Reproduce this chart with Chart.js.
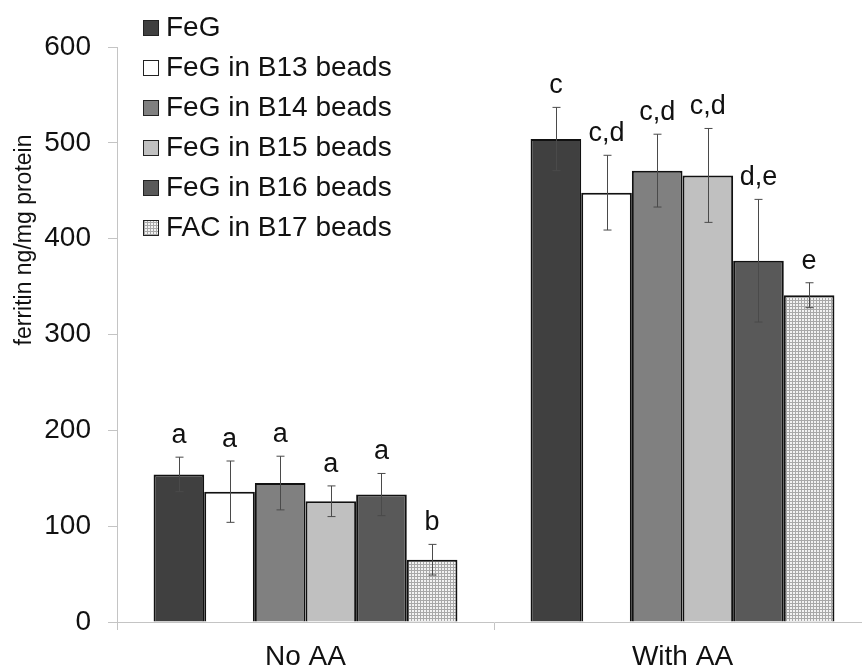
<!DOCTYPE html>
<html>
<head>
<meta charset="utf-8">
<script src="https://cdn.jsdelivr.net/npm/chart.js@4.4.1/dist/chart.umd.min.js"></script>
<style>
    html, body { margin: 0; padding: 0; background: #fff; overflow: hidden; }
    #wrap { width: 872px; height: 666px; position: relative; }
</style>
</head>
<body>
<div id="wrap"><canvas id="ferritinChart"></canvas></div>
<script>
// categories and series
const groups = ['No AA', 'With AA'];
const seriesNames = ['FeG', 'FeG in B13 beads', 'FeG in B14 beads', 'FeG in B15 beads', 'FeG in B16 beads', 'FAC in B17 beads'];

const feG      = [154, 504];
const feGB13   = [136, 448];
const feGB14   = [145, 471];
const feGB15   = [126, 466];
const feGB16   = [133, 377];
const facB17   = [65, 341];

const feGErr    = [18, 33];
const feGB13Err = [32, 39];
const feGB14Err = [28, 38];
const feGB15Err = [16, 49];
const feGB16Err = [22, 64];
const facB17Err = [16, 13];

// significance letters
const feGLetters    = ['a', 'c'];
const feGB13Letters = ['a', 'c,d'];
const feGB14Letters = ['a', 'c,d'];
const feGB15Letters = ['a', 'c,d'];
const feGB16Letters = ['a', 'd,e'];
const facB17Letters = ['b', 'e'];

const yTicks = [0, 100, 200, 300, 400, 500, 600];

// fine grid fill for the FAC bars
function makeGridPattern() {
    const c = document.createElement('canvas');
    c.width = 3;
    c.height = 3;
    const g = c.getContext('2d');
    g.fillStyle = '#f2f2f2';
    g.fillRect(0, 0, 3, 3);
    g.fillStyle = '#a8a8a8';
    g.fillRect(0, 0, 3, 1);
    g.fillRect(0, 0, 1, 3);
    return g.createPattern(c, 'repeat');
}

const ctx = document.getElementById('ferritinChart').getContext('2d');
const gridFill = makeGridPattern();

const fills = ['#404040', '#ffffff', '#808080', '#c0c0c0', '#595959', gridFill];
const values = [feG, feGB13, feGB14, feGB15, feGB16, facB17];
const errors = [feGErr, feGB13Err, feGB14Err, feGB15Err, feGB16Err, facB17Err];
const letters = [feGLetters, feGB13Letters, feGB14Letters, feGB15Letters, feGB16Letters, facB17Letters];

const datasets = seriesNames.map(function (name, i) {
    return {
        label: name,
        data: values[i],
        errors: errors[i],
        letters: letters[i],
        backgroundColor: fills[i],
        borderColor: '#111',
        borderWidth: 2,
        borderSkipped: 'bottom'
    };
});

// error bars + letters above them
const errorBars = {
    id: 'errorBars',
    afterDatasetsDraw(chart) {
        const c = chart.ctx;
        const y = chart.scales.y;
        c.save();
        chart.data.datasets.forEach(function (ds, i) {
            const meta = chart.getDatasetMeta(i);
            meta.data.forEach(function (bar, j) {
                const v = ds.data[j];
                const e = ds.errors[j];
                const top = y.getPixelForValue(v + e);
                const bot = y.getPixelForValue(v - e);
                const x = Math.round(bar.x) + 0.5;
                c.strokeStyle = '#4a4a4a';
                c.lineWidth = 1;
                c.beginPath();
                c.moveTo(x, top);
                c.lineTo(x, bot);
                c.moveTo(x - 4, top);
                c.lineTo(x + 4, top);
                c.moveTo(x - 4, bot);
                c.lineTo(x + 4, bot);
                c.stroke();

                c.fillStyle = '#111';
                c.font = '27px "Liberation Sans", Arial, sans-serif';
                c.textAlign = 'center';
                c.textBaseline = 'alphabetic';
                c.fillText(ds.letters[j], bar.x, top - 14);
            });
        });
        c.restore();
    }
};

// legend drawn inside the plot, top left
const innerLegend = {
    id: 'innerLegend',
    afterDraw(chart) {
        const c = chart.ctx;
        c.save();
        c.font = '28px "Liberation Sans", Arial, sans-serif';
        c.textAlign = 'left';
        c.textBaseline = 'alphabetic';
        chart.data.datasets.forEach(function (ds, i) {
            const base = 36 + i * 40;
            c.fillStyle = ds.backgroundColor;
            c.fillRect(143, base - 16, 16, 16);
            c.strokeStyle = '#222';
            c.lineWidth = 1;
            c.strokeRect(143.5, base - 15.5, 15, 15);
            c.fillStyle = '#111';
            c.fillText(ds.label, 166, base);
        });
        c.restore();
    }
};

// rotated y title
const yTitle = {
    id: 'yTitle',
    afterDraw(chart) {
        const c = chart.ctx;
        c.save();
        c.translate(31, 240);
        c.rotate(-Math.PI / 2);
        c.font = '23px "Liberation Sans", Arial, sans-serif';
        c.fillStyle = '#111';
        c.textAlign = 'center';
        c.textBaseline = 'alphabetic';
        c.fillText('ferritin ng/mg protein', 0, 0);
        c.restore();
    }
};

const config = {
    type: 'bar',
    data: {
        labels: groups,
        datasets: datasets
    },
    options: {
        responsive: true,
        maintainAspectRatio: false,
        animation: false,
        layout: {
            padding: { top: 47, right: 1, bottom: 0, left: 0 }
        },
        datasets: {
            bar: {
                categoryPercentage: 0.806,
                barPercentage: 1.0
            }
        },
        plugins: {
            legend: { display: false },
            tooltip: { enabled: false }
        },
        scales: {
            x: {
                afterFit: function (s) { s.height = 44; },
                border: { color: '#c4c4c4', width: 1 },
                grid: {
                    offset: true,
                    drawOnChartArea: false,
                    color: '#c4c4c4',
                    tickLength: 8
                },
                ticks: {
                    color: '#111',
                    padding: 10,
                    font: { family: '"Liberation Sans", Arial, sans-serif', size: 28 }
                }
            },
            y: {
                min: 0,
                max: 600,
                afterFit: function (s) { s.width = 117; },
                afterBuildTicks: function (s) {
                    s.ticks = yTicks.map(function (v) { return { value: v }; });
                },
                border: { color: '#c4c4c4', width: 1 },
                grid: {
                    drawOnChartArea: false,
                    color: '#c4c4c4',
                    tickLength: 9
                },
                ticks: {
                    color: '#111',
                    padding: 17,
                    font: { family: '"Liberation Sans", Arial, sans-serif', size: 28 }
                }
            }
        }
    },
    plugins: [errorBars, innerLegend, yTitle]
};

new Chart(ctx, config);
</script>
</body>
</html>
